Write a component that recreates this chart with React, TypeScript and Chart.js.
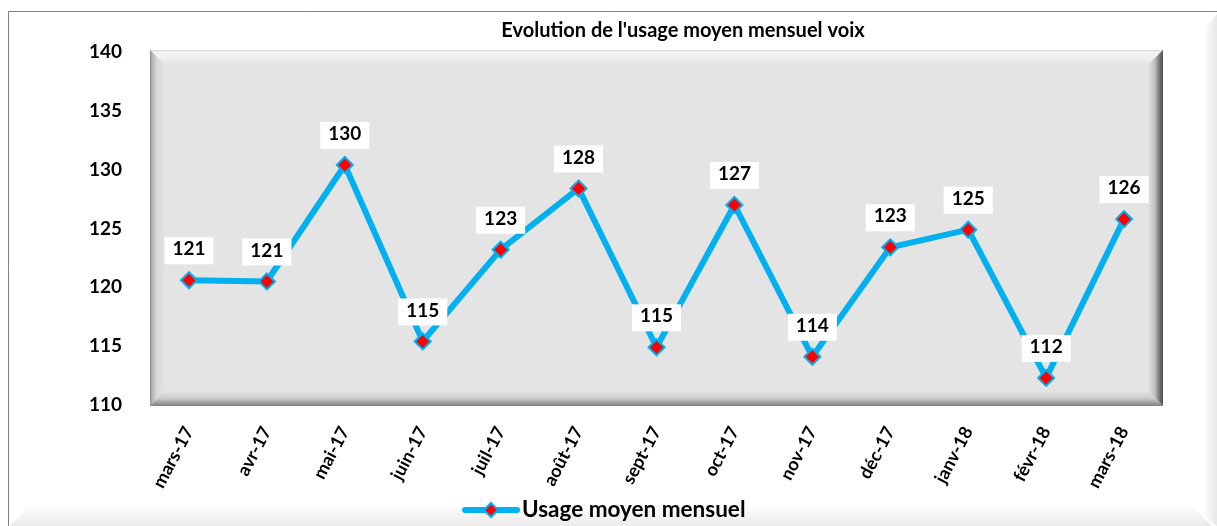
import React, { useEffect, useRef } from "react";
import { Chart, registerables } from "chart.js";

Chart.register(...registerables);

const months = [
  "mars-17", "avr-17", "mai-17", "juin-17", "juil-17", "août-17", "sept-17",
  "oct-17", "nov-17", "déc-17", "janv-18", "févr-18", "mars-18",
];
const usage = [120.6, 120.5, 130.4, 115.4, 123.2, 128.4, 114.9, 127.0, 114.1, 123.4, 124.9, 112.3, 125.8];
const yMin = 110;
const yMax = 140;
const yStep = 5;
const chartTitle = "Evolution de l'usage moyen mensuel voix";
const seriesName = "Usage moyen mensuel";

const FONT = "Lato, 'Open Sans', sans-serif";
const LINE_COLOR = "#00b0f0";
const POINT_COLOR = "#ff0000";

const W = 1217;
const H = 526;

function drawDiamond(ctx: CanvasRenderingContext2D, x: number, y: number, r: number) {
  ctx.beginPath();
  ctx.moveTo(x, y - r);
  ctx.lineTo(x + r, y);
  ctx.lineTo(x, y + r);
  ctx.lineTo(x - r, y);
  ctx.closePath();
  ctx.fillStyle = POINT_COLOR;
  ctx.fill();
  ctx.lineWidth = 2;
  ctx.strokeStyle = LINE_COLOR;
  ctx.stroke();
}

const backgroundPlugin = {
  id: "bgBevel",
  beforeDraw(chart: any) {
    const ctx: CanvasRenderingContext2D = chart.ctx;
    const ca = chart.chartArea;
    ctx.save();
    ctx.fillStyle = "#ffffff";
    ctx.fillRect(0, 0, W, H);
    let g = ctx.createLinearGradient(0, 504, 0, H);
    g.addColorStop(0, "rgba(235,235,235,0)");
    g.addColorStop(1, "rgba(235,235,235,1)");
    ctx.fillStyle = g;
    ctx.beginPath();
    ctx.moveTo(30, 504);
    ctx.lineTo(1190, 504);
    ctx.lineTo(1212, H);
    ctx.lineTo(10, H);
    ctx.closePath();
    ctx.fill();
    g = ctx.createLinearGradient(1203, 0, W, 0);
    g.addColorStop(0, "rgba(232,232,232,0)");
    g.addColorStop(1, "rgba(232,232,232,1)");
    ctx.fillStyle = g;
    ctx.beginPath();
    ctx.moveTo(1203, 30);
    ctx.lineTo(W, 14);
    ctx.lineTo(W, H);
    ctx.lineTo(1203, H - 10);
    ctx.closePath();
    ctx.fill();
    ctx.strokeStyle = "#7f7f7f";
    ctx.lineWidth = 1;
    ctx.beginPath();
    ctx.moveTo(8.5, H);
    ctx.lineTo(8.5, 11.5);
    ctx.lineTo(W, 11.5);
    ctx.stroke();

    const l = ca.left, r = ca.right, t = ca.top - 2, b = ca.bottom + 1;
    const w = 15;
    ctx.fillStyle = "#e4e4e4";
    ctx.fillRect(l, t, r - l, b - t);
    g = ctx.createLinearGradient(0, t, 0, t + w);
    g.addColorStop(0, "#d0d0d0");
    g.addColorStop(0.12, "#f4f4f4");
    g.addColorStop(0.5, "#efefef");
    g.addColorStop(1, "#e4e4e4");
    ctx.fillStyle = g;
    ctx.beginPath();
    ctx.moveTo(l, t); ctx.lineTo(r, t); ctx.lineTo(r - w, t + w); ctx.lineTo(l + w, t + w); ctx.closePath();
    ctx.fill();
    g = ctx.createLinearGradient(l, 0, l + w, 0);
    g.addColorStop(0, "#8a8a8a");
    g.addColorStop(0.15, "#b4b4b4");
    g.addColorStop(0.45, "#d8d8d8");
    g.addColorStop(1, "#e4e4e4");
    ctx.fillStyle = g;
    ctx.beginPath();
    ctx.moveTo(l, t); ctx.lineTo(l + w, t + w); ctx.lineTo(l + w, b - w); ctx.lineTo(l, b); ctx.closePath();
    ctx.fill();
    g = ctx.createLinearGradient(r - w, 0, r, 0);
    g.addColorStop(0, "#e4e4e4");
    g.addColorStop(0.45, "#c0c0c0");
    g.addColorStop(0.8, "#707070");
    g.addColorStop(1, "#505050");
    ctx.fillStyle = g;
    ctx.beginPath();
    ctx.moveTo(r, t); ctx.lineTo(r, b); ctx.lineTo(r - w, b - w); ctx.lineTo(r - w, t + w); ctx.closePath();
    ctx.fill();
    g = ctx.createLinearGradient(0, b - w, 0, b);
    g.addColorStop(0, "#e4e4e4");
    g.addColorStop(0.5, "#cacaca");
    g.addColorStop(0.8, "#9c9c9c");
    g.addColorStop(1, "#808080");
    ctx.fillStyle = g;
    ctx.beginPath();
    ctx.moveTo(l, b); ctx.lineTo(r, b); ctx.lineTo(r - w, b - w); ctx.lineTo(l + w, b - w); ctx.closePath();
    ctx.fill();

    ctx.fillStyle = "#000000";
    ctx.font = `bold 20px ${FONT}`;
    ctx.textAlign = "center";
    ctx.textBaseline = "middle";
    ctx.fillText(chartTitle, 683, 31);
    ctx.restore();
  },
  afterDatasetsDraw(chart: any) {
    const ctx: CanvasRenderingContext2D = chart.ctx;
    const meta = chart.getDatasetMeta(0);
    const data = chart.data.datasets[0].data as number[];
    ctx.save();
    ctx.font = `bold 19px ${FONT}`;
    ctx.textAlign = "center";
    ctx.textBaseline = "middle";
    meta.data.forEach((pt: any, i: number) => {
      const txt = String(Math.round(data[i]));
      const tw = ctx.measureText(txt).width;
      const bw = tw + 16;
      const bh = 27;
      const x = pt.x;
      const y = pt.y;
      ctx.fillStyle = "#ffffff";
      ctx.fillRect(x - bw / 2, y - 43, bw, bh);
      ctx.fillStyle = "#000000";
      ctx.fillText(txt, x, y - 31);
    });
    ctx.restore();
  },
  afterDraw(chart: any) {
    const ctx: CanvasRenderingContext2D = chart.ctx;
    ctx.save();
    const y = 510;
    ctx.strokeStyle = LINE_COLOR;
    ctx.lineWidth = 6;
    ctx.lineCap = "round";
    ctx.beginPath();
    ctx.moveTo(465, y);
    ctx.lineTo(517, y);
    ctx.stroke();
    drawDiamond(ctx, 491, y, 7);
    ctx.fillStyle = "#000000";
    ctx.font = `bold 22.5px ${FONT}`;
    ctx.textAlign = "left";
    ctx.textBaseline = "middle";
    ctx.fillText(seriesName, 522, y);
    ctx.restore();
  },
};

export default function App() {
  const ref = useRef<HTMLCanvasElement | null>(null);
  useEffect(() => {
    if (!ref.current) return;
    const chart = new Chart(ref.current, {
      type: "line",
      data: {
        labels: months,
        datasets: [
          {
            label: seriesName,
            data: usage,
            borderColor: LINE_COLOR,
            borderWidth: 6,
            backgroundColor: POINT_COLOR,
            pointStyle: "rectRot",
            pointRadius: 8,
            pointBackgroundColor: POINT_COLOR,
            pointBorderColor: LINE_COLOR,
            pointBorderWidth: 2,
            tension: 0,
            clip: false as any,
          },
        ],
      },
      options: {
        animation: false,
        responsive: false,
        events: [],
        layout: { padding: { left: 0, top: 52, right: 54, bottom: 0 } },
        plugins: {
          legend: { display: false },
          title: { display: false },
          tooltip: { enabled: false },
        },
        scales: {
          x: {
            offset: true,
            grid: { display: false },
            border: { display: false },
            ticks: {
              minRotation: 62,
              maxRotation: 62,
              padding: 10,
              color: "#000000",
              font: { family: FONT, size: 18, weight: "bold" },
            },
            afterFit(scale: any) {
              scale.height = 121;
            },
          },
          y: {
            min: yMin,
            max: yMax,
            grid: { display: false },
            border: { display: false },
            ticks: {
              stepSize: yStep,
              padding: 20,
              color: "#000000",
              font: { family: FONT, size: 19, weight: "bold" },
            },
            afterFit(scale: any) {
              scale.width = 150;
            },
          },
        },
      },
      plugins: [backgroundPlugin],
    });
    return () => chart.destroy();
  }, []);
  return (
    <div style={{ position: "fixed", left: 0, top: 0, width: W, height: H, background: "#fff" }}>
      <canvas ref={ref} width={W} height={H} style={{ display: "block", width: W, height: H }} />
    </div>
  );
}
